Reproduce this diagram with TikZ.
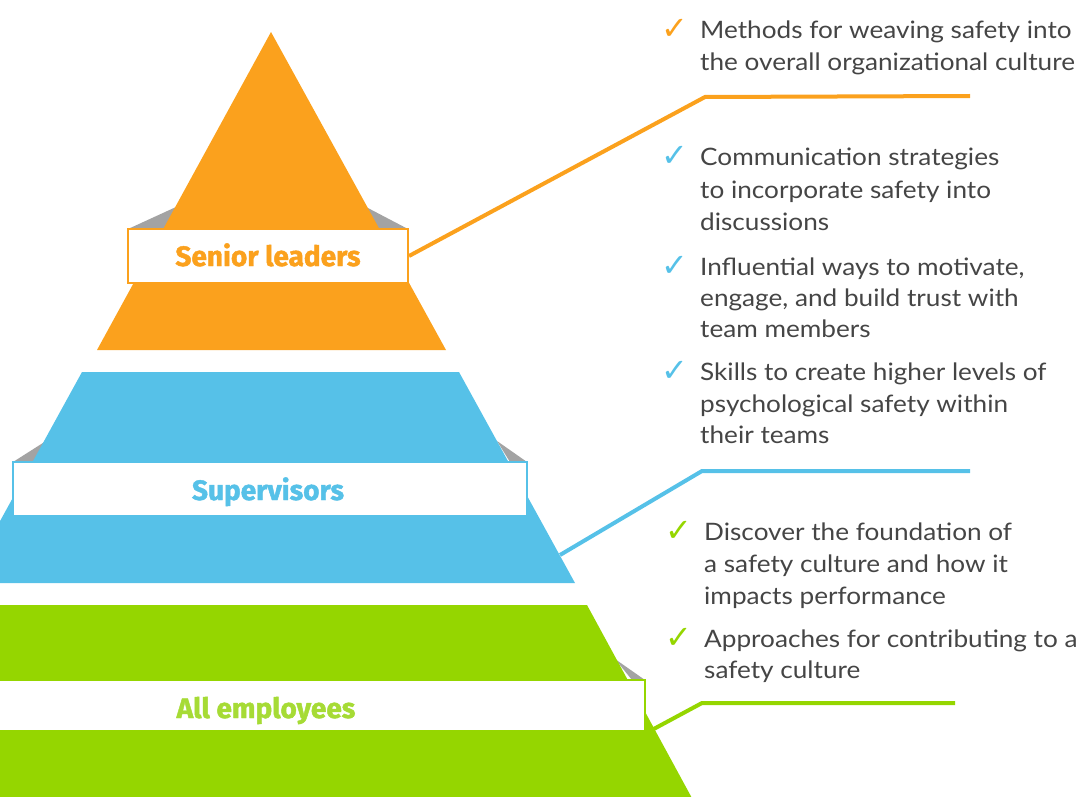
\documentclass[tikz,border=0pt]{standalone}
\usepackage{fontspec}
\setmainfont{Lato}[FakeStretch=1.09]
\newfontfamily\bannerfont{Fira Sans}[BoldFeatures={FakeBold=1.6}]
\newfontfamily\symfont{DejaVu Sans}
\definecolor{orng}{HTML}{FBA11D}
\definecolor{sky}{HTML}{56C1E8}
\definecolor{lime}{HTML}{95D600}
\definecolor{limetext}{HTML}{A6DB35}
\definecolor{foldgray}{HTML}{A3A3A3}
\definecolor{txt}{HTML}{454545}
\tikzset{
  banner/.style={draw, fill=white, line width=2pt, inner sep=0pt, rectangle},
  bannerlabel/.style={font=\bannerfont\bfseries\fontsize{28}{30}\selectfont, inner sep=0pt, anchor=base},
  itemline/.style={font=\fontsize{24}{30}\selectfont, text=txt, inner sep=0pt, anchor=base west},
  tick/.style={font=\symfont\fontsize{32}{36}\selectfont, inner sep=0pt, anchor=base west},
  link/.style={line width=4pt}
}
\begin{document}
\begin{tikzpicture}[x=1pt,y=-1pt]
\useasboundingbox (0,0) rectangle (1082,797);
\begin{scope}
\clip (0,0) rectangle (1082,797);
% ---- green level ----
\fill[foldgray] (645,680) -- (615,659) -- (632,680) -- cycle;
\fill[lime] (-40,605) -- (587,605) -- (693,800) -- (-150,800) -- cycle;
\node[banner, draw=lime, minimum width=660, minimum height=51] (gb) at (315,705.5) {};
\node[bannerlabel, text=limetext] (gl) at (266,718) {All employees};
% ---- blue level ----
\fill[foldgray] (13,462) -- (46,441) -- (37,462) -- cycle;
\fill[foldgray] (527,462) -- (497,441) -- (510,462) -- cycle;
\fill[sky] (82,372) -- (459,372) -- (575,583) -- (-34,583) -- cycle;
\node[banner, draw=sky, minimum width=514, minimum height=54] (bb) at (270,489) {};
\node[bannerlabel, text=sky] (bl) at (268,500) {Supervisors};
% ---- orange level ----
\fill[foldgray] (128,229) -- (176,207) -- (168,229) -- cycle;
\fill[foldgray] (408,229) -- (366,207) -- (375,229) -- cycle;
\fill[orng] (271,32) -- (446,350) -- (97,350) -- cycle;
\node[banner, draw=orng, minimum width=280, minimum height=54] (ob) at (268,256) {};
\node[bannerlabel, text=orng] (ol) at (268,266) {Senior leaders};
\end{scope}
% ---- connectors ----
\coordinate (o1) at (705,97);
\coordinate (o2) at (970,96);
\draw[link, orng] (ob.east) -- (o1) -- (o2);
\coordinate (b0) at (560,555);
\coordinate (b1) at (702,471);
\coordinate (b2) at (970,471);
\draw[link, sky] (b0) -- (b1) -- (b2);
\coordinate (g0) at (650,731);
\coordinate (g1) at (702,703);
\coordinate (g2) at (955,703);
\draw[link, lime] (g0) -- (g1) -- (g2);
% ---- checks ----
\node[tick, text=orng] (c1) at (661,40) {✓};
\node[tick, text=sky] (c2) at (661,167) {✓};
\node[tick, text=sky] (c3) at (661,276) {✓};
\node[tick, text=sky] (c4) at (661,381) {✓};
\node[tick, text=lime] (c5) at (665,541) {✓};
\node[tick, text=lime] (c6) at (665,648) {✓};
% ---- text ----
\node[itemline] (t1a) at (700,39) {Methods for weaving safety into};
\node[itemline] (t1b) at (700,71) {the overall organizational culture};
\node[itemline] (t2a) at (700,166) {Communication strategies};
\node[itemline] (t2b) at (700,198) {to incorporate safety into};
\node[itemline] (t2c) at (700,230) {discussions};
\node[itemline] (t3a) at (700,275) {Influential ways to motivate,};
\node[itemline] (t3b) at (700,306) {engage, and build trust with};
\node[itemline] (t3c) at (700,337) {team members};
\node[itemline] (t4a) at (700,380) {Skills to create higher levels of};
\node[itemline] (t4b) at (700,412) {psychological safety within};
\node[itemline] (t4c) at (700,443) {their teams};
\node[itemline] (t5a) at (704,540) {Discover the foundation of};
\node[itemline] (t5b) at (704,572) {a safety culture and how it};
\node[itemline] (t5c) at (704,604) {impacts performance};
\node[itemline] (t6a) at (704,647) {Approaches for contributing to a};
\node[itemline] (t6b) at (704,678) {safety culture};
\end{tikzpicture}
\end{document}
